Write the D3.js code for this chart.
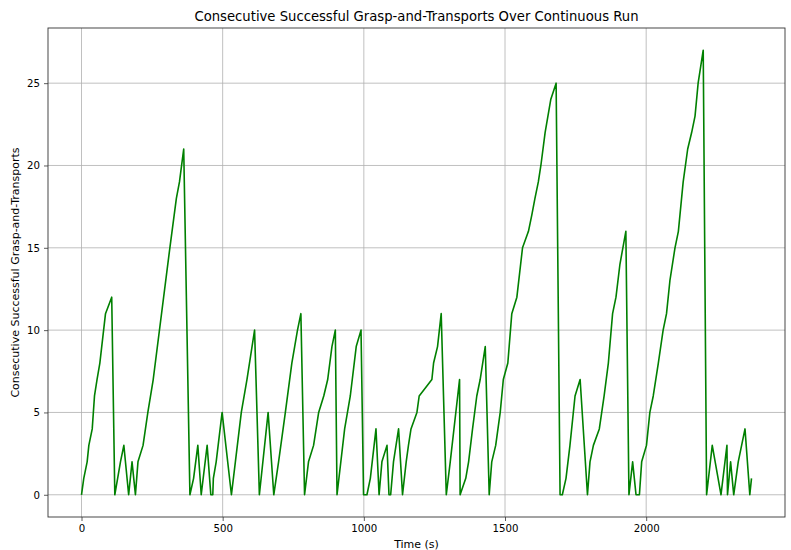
<!DOCTYPE html>
<html>
<head>
<meta charset="utf-8">
<script src="https://cdn.jsdelivr.net/npm/d3@7"></script>
<style>
  body { margin: 0; background: #fff; }
  text { font-family: "DejaVu Sans", sans-serif; fill: #000; }
</style>
</head>
<body>
<div id="chart"></div>
<script>
// Vertices of the counter line
var times = [0, 8, 20, 26, 38, 46, 55, 65, 85, 107, 118,
    138, 150, 167, 179, 191, 200, 218, 235, 254, 313, 336, 347, 362, 384,
    397, 412, 424, 445, 458, 465, 467, 477, 498, 531, 545, 566, 586, 613, 630,
    661, 681, 698, 722, 745, 755, 765, 777, 790,
    804, 822, 840, 858, 872, 887, 899, 905, 932, 952, 973, 990, 999, 1011,
    1023, 1043, 1054, 1064, 1082, 1089, 1095, 1105, 1123, 1137, 1150, 1158,
    1167, 1188, 1196, 1241, 1247, 1261, 1274, 1292, 1306, 1339, 1341, 1361,
    1371, 1385, 1400, 1412, 1430, 1444, 1453, 1467, 1483, 1494, 1510, 1524,
    1542, 1562, 1583, 1595, 1606, 1618, 1627, 1642, 1662, 1681, 1695, 1703,
    1716, 1730, 1748, 1766, 1792, 1801, 1813, 1834, 1851, 1866, 1881, 1893,
    1907, 1928, 1939, 1952, 1964, 1976, 1984, 2001, 2013, 2025, 2043, 2060,
    2072, 2084, 2102, 2114, 2131, 2147, 2161, 2173, 2184, 2202, 2214, 2234,
    2265, 2286, 2288, 2299, 2310, 2326, 2350, 2367, 2373];
var counts = [0, 1, 2, 3, 4, 6, 7, 8, 11, 12, 0,
    2, 3, 0, 2, 0, 2, 3, 5, 7, 15, 18, 19, 21, 0,
    1, 3, 0, 3, 0, 0, 1, 2, 5, 0, 2, 5, 7, 10, 0,
    5, 0, 2, 5, 8, 9, 10, 11, 0,
    2, 3, 5, 6, 7, 9, 10, 0, 4, 6, 9, 10, 0, 0,
    1, 4, 0, 2, 3, 0, 0, 2, 4, 0, 2, 3,
    4, 5, 6, 7, 8, 9, 11, 0, 2, 7, 0, 1,
    2, 4, 6, 7, 9, 0, 2, 3, 5, 7, 8, 11,
    12, 15, 16, 17, 18, 19, 20, 22, 24, 25, 0, 0,
    1, 3, 6, 7, 0, 2, 3, 4, 6, 8, 11, 12,
    14, 16, 0, 2, 0, 0, 2, 3, 5, 6, 8, 10,
    11, 13, 15, 16, 19, 21, 22, 23, 25, 27, 0, 3,
    0, 3, 0, 2, 0, 2, 4, 0, 1];

var xTicks = [0, 500, 1000, 1500, 2000];
var yTicks = [0, 5, 10, 15, 20, 25];

var titleText = "Consecutive Successful Grasp-and-Transports Over Continuous Run";
var xLabel = "Time (s)";
var yLabel = "Consecutive Successful Grasp-and-Transports";

var width = 791, height = 550;
var margin = { left: 48, right: 6, top: 28, bottom: 33 };
var plotW = width - margin.left - margin.right;
var plotH = height - margin.top - margin.bottom;

var points = times.map(function(t, i) { return { t: t, v: counts[i] }; });

// matplotlib style 5% padding
var xMin = d3.min(times), xMax = d3.max(times);
var xPad = (xMax - xMin) * 0.05;
var yMax = d3.max(counts);
var yPad = yMax * 0.05;

var x = d3.scaleLinear().domain([xMin - xPad, xMax + xPad]).range([0, plotW]);
var y = d3.scaleLinear().domain([-yPad, yMax + yPad]).range([plotH, 0]);

var svg = d3.select('#chart').append('svg')
    .attr('width', width)
    .attr('height', height);

var g = svg.append('g')
    .attr('transform', 'translate(' + margin.left + ',' + margin.top + ')');

// grid lines
g.append('g').selectAll('line').data(xTicks).enter().append('line')
    .attr('x1', function(d) { return x(d); })
    .attr('x2', function(d) { return x(d); })
    .attr('y1', 0).attr('y2', plotH)
    .attr('stroke', '#b0b0b0').attr('stroke-width', 0.8);
g.append('g').selectAll('line').data(yTicks).enter().append('line')
    .attr('y1', function(d) { return y(d); })
    .attr('y2', function(d) { return y(d); })
    .attr('x1', 0).attr('x2', plotW)
    .attr('stroke', '#b0b0b0').attr('stroke-width', 0.8);

// the line
var line = d3.line()
    .x(function(d) { return x(d.t); })
    .y(function(d) { return y(d.v); });

g.append('path')
    .datum(points)
    .attr('d', line)
    .attr('fill', 'none')
    .attr('stroke', '#008000')
    .attr('stroke-width', 1.6)
    .attr('stroke-linejoin', 'round');

// axes
var xAxis = d3.axisBottom(x).tickValues(xTicks).tickFormat(d3.format('d')).tickSize(4).tickPadding(4);
var yAxis = d3.axisLeft(y).tickValues(yTicks).tickFormat(d3.format('d')).tickSize(4).tickPadding(4);

var xg = g.append('g').attr('transform', 'translate(0,' + plotH + ')').call(xAxis);
var yg = g.append('g').call(yAxis);
[xg, yg].forEach(function(a) {
    a.select('.domain').remove();
    a.selectAll('.tick line').attr('stroke', '#333').attr('stroke-width', 0.8);
    a.selectAll('.tick text').style('font-size', '10.2px').attr('fill', '#222');
});

// frame
g.append('rect')
    .attr('x', 0).attr('y', 0)
    .attr('width', plotW).attr('height', plotH)
    .attr('fill', 'none')
    .attr('stroke', '#333')
    .attr('stroke-width', 0.9);

// labels
svg.append('text')
    .attr('x', margin.left + plotW / 2)
    .attr('y', 21)
    .attr('text-anchor', 'middle')
    .style('font-size', '13.2px')
    .text(titleText);

svg.append('text')
    .attr('x', margin.left + plotW / 2)
    .attr('y', 548)
    .attr('text-anchor', 'middle')
    .style('font-size', '11px')
    .text(xLabel);

svg.append('text')
    .attr('transform', 'translate(19,' + (margin.top + plotH / 2) + ') rotate(-90)')
    .attr('text-anchor', 'middle')
    .style('font-size', '11px')
    .text(yLabel);
</script>
</body>
</html>
